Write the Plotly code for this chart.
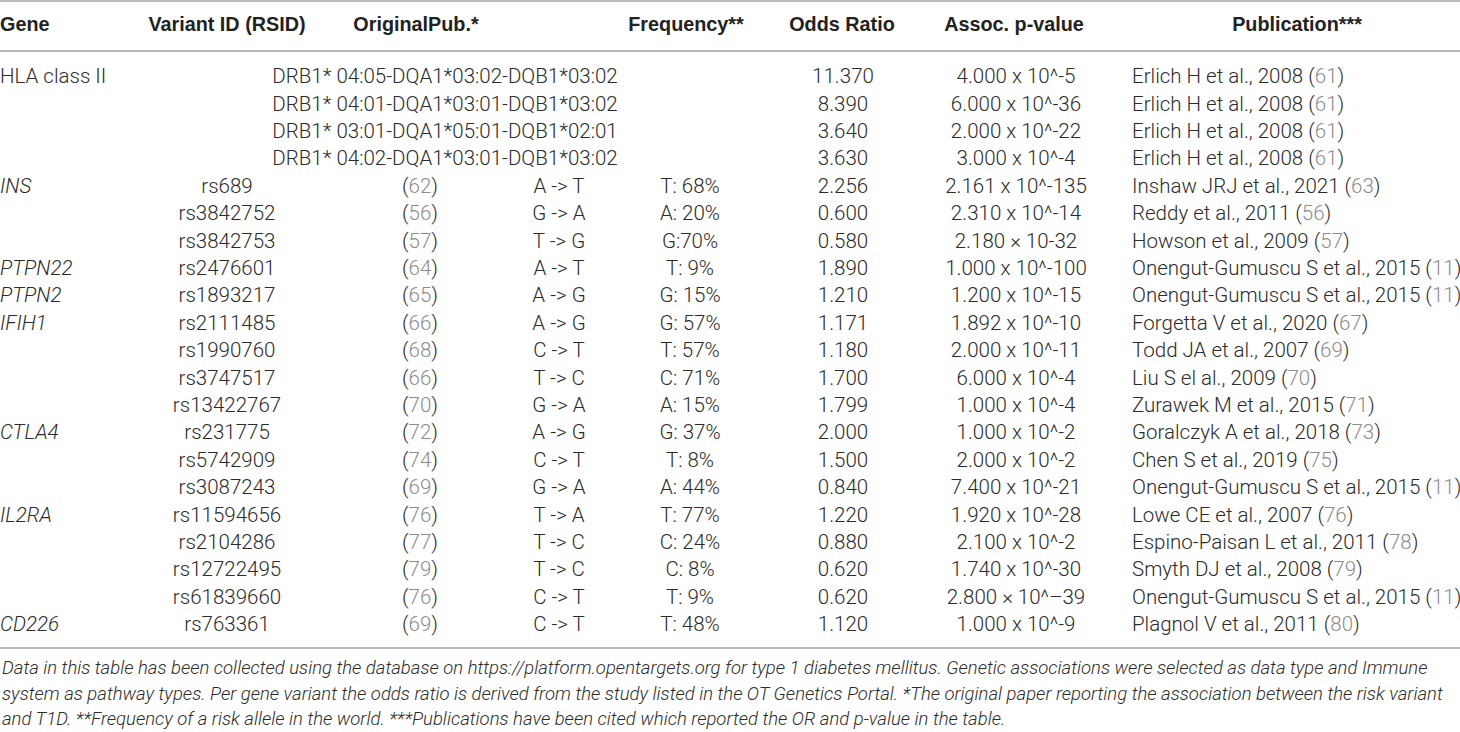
import plotly.graph_objects as go

# table content
headers = ["Gene", "Variant ID (RSID)", "OriginalPub.*", "", "Frequency**",
           "Odds Ratio", "Assoc. p-value", "Publication***"]

genes = ["HLA class II", "", "", "", "INS", "", "", "PTPN22", "PTPN2", "IFIH1",
         "", "", "", "CTLA4", "", "", "IL2RA", "", "", "", "CD226"]

haplotypes = ["DRB1* 04:05-DQA1*03:02-DQB1*03:02",
              "DRB1* 04:01-DQA1*03:01-DQB1*03:02",
              "DRB1* 03:01-DQA1*05:01-DQB1*02:01",
              "DRB1* 04:02-DQA1*03:01-DQB1*03:02"]

variants = ["rs689", "rs3842752", "rs3842753", "rs2476601", "rs1893217",
            "rs2111485", "rs1990760", "rs3747517", "rs13422767", "rs231775",
            "rs5742909", "rs3087243", "rs11594656", "rs2104286", "rs12722495",
            "rs61839660", "rs763361"]
orig_refs = [62, 56, 57, 64, 65, 66, 68, 66, 70, 72, 74, 69, 76, 77, 79, 76, 69]
alleles = ["A -> T", "G -> A", "T -> G", "A -> T", "A -> G", "A -> G", "C -> T",
           "T -> C", "G -> A", "A -> G", "C -> T", "G -> A", "T -> A", "T -> C",
           "T -> C", "C -> T", "C -> T"]
freqs = ["T: 68%", "A: 20%", "G:70%", "T: 9%", "G: 15%", "G: 57%", "T: 57%",
         "C: 71%", "A: 15%", "G: 37%", "T: 8%", "A: 44%", "T: 77%", "C: 24%",
         "C: 8%", "T: 9%", "T: 48%"]

odds = ["11.370", "8.390", "3.640", "3.630", "2.256", "0.600", "0.580", "1.890",
        "1.210", "1.171", "1.180", "1.700", "1.799", "2.000", "1.500", "0.840",
        "1.220", "0.880", "0.620", "0.620", "1.120"]
pvals = ["4.000 x 10^-5", "6.000 x 10^-36", "2.000 x 10^-22", "3.000 x 10^-4",
         "2.161 x 10^-135", "2.310 x 10^-14", "2.180 × 10-32", "1.000 x 10^-100",
         "1.200 x 10^-15", "1.892 x 10^-10", "2.000 x 10^-11", "6.000 x 10^-4",
         "1.000 x 10^-4", "1.000 x 10^-2", "2.000 x 10^-2", "7.400 x 10^-21",
         "1.920 x 10^-28", "2.100 x 10^-2", "1.740 x 10^-30", "2.800 × 10^–39",
         "1.000 x 10^-9"]
pub_authors = ["Erlich H et al., 2008"] * 4 + [
    "Inshaw JRJ et al., 2021", "Reddy et al., 2011", "Howson et al., 2009",
    "Onengut-Gumuscu S et al., 2015", "Onengut-Gumuscu S et al., 2015",
    "Forgetta V et al., 2020", "Todd JA et al., 2007", "Liu S el al., 2009",
    "Zurawek M et al., 2015", "Goralczyk A et al., 2018", "Chen S et al., 2019",
    "Onengut-Gumuscu S et al., 2015", "Lowe CE et al., 2007",
    "Espino-Paisan L et al., 2011", "Smyth DJ et al., 2008",
    "Onengut-Gumuscu S et al., 2015", "Plagnol V et al., 2011"]
pub_refs = [61, 61, 61, 61, 63, 56, 57, 11, 11, 67, 69, 70, 71, 73, 75, 11, 76,
            78, 79, 11, 80]

footer = [
    "Data in this table has been collected using the database on https://platform.opentargets.org for type 1 diabetes mellitus. Genetic associations were selected as data type and Immune",
    "system as pathway types. Per gene variant the odds ratio is derived from the study listed in the OT Genetics Portal. *The original paper reporting the association between the risk variant",
    "and T1D. **Frequency of a risk allele in the world. ***Publications have been cited which reported the OR and p-value in the table.",
]

# layout helpers (pixel space)
W, H = 1460, 732
col_x = [0, 227, 420, 559, 690, 843, 1016, 1132]
hdr_x = [0, 227, 416, 559, 686, 842, 1014, 1297]
hap_x = 445
row0, row_h = 78, 27.4
hdr_y = 26
TXT = "#2b2b2b"
REF = "#8c8c8c"
RULE = "#a3a3a3"
body_font = dict(family="Roboto, Liberation Sans, Arial", size=20.5, color=TXT, weight=300)

n_hla = len(haplotypes)
row_y = [row0 + i * row_h for i in range(len(genes))]
var_y = row_y[n_hla:]


def ref(n):
    return f'(<span style="color:{REF}">{n}</span>)'


fig = go.Figure()

def add_col(x, y, text, pos="middle center"):
    fig.add_trace(go.Scatter(
        x=[x] * len(y), y=y, text=text, mode="text", textposition=pos,
        textfont=body_font, hoverinfo="skip", showlegend=False, cliponaxis=False))

# header row
fig.add_trace(go.Scatter(
    x=hdr_x, y=[hdr_y] * len(headers), text=[f"<b>{h}</b>" for h in headers],
    mode="text",
    textposition=["middle right"] + ["middle center"] * (len(headers) - 1),
    textfont=dict(family="Liberation Sans, Arial", size=19.8, color="#222222"),
    hoverinfo="skip", showlegend=False, cliponaxis=False))

# gene names (HLA plain, others italic)
gene_txt = [g if i < n_hla else f"<i>{g}</i>" for i, g in enumerate(genes)]
add_col(col_x[0], row_y, gene_txt, "middle right")
add_col(hap_x, row_y[:n_hla], haplotypes)
add_col(col_x[1], var_y, variants)
add_col(col_x[2], var_y, [ref(r) for r in orig_refs])
add_col(col_x[3], var_y, alleles)
add_col(col_x[4], var_y, freqs)
add_col(col_x[5], row_y, odds)
add_col(col_x[6], row_y, pvals)
add_col(col_x[7], row_y, [f"{a} {ref(r)}" for a, r in zip(pub_authors, pub_refs)],
        "middle right")

# horizontal rules
for yy in [1, 51, 648]:
    fig.add_shape(type="line", x0=0, x1=W, y0=yy, y1=yy,
                  line=dict(color=RULE, width=1.6))

# footnote
foot_y = [668, 694, 719]
for line, yy in zip(footer, foot_y):
    fig.add_annotation(x=0, y=yy, text=f"<i>{line}</i>", showarrow=False,
                       xanchor="left", yanchor="middle", align="left",
                       font=dict(family="Roboto, Liberation Sans, Arial", size=18.5,
                                 color=TXT, weight=300))

fig.update_layout(
    width=W, height=H,
    margin=dict(l=0, r=0, t=0, b=0),
    paper_bgcolor="white", plot_bgcolor="white",
    xaxis=dict(range=[0, W], visible=False, fixedrange=True),
    yaxis=dict(range=[H, 0], visible=False, fixedrange=True),
)

fig.write_html("out.html", config={"displayModeBar": False},
               post_script="document.body.style.margin='0';")
